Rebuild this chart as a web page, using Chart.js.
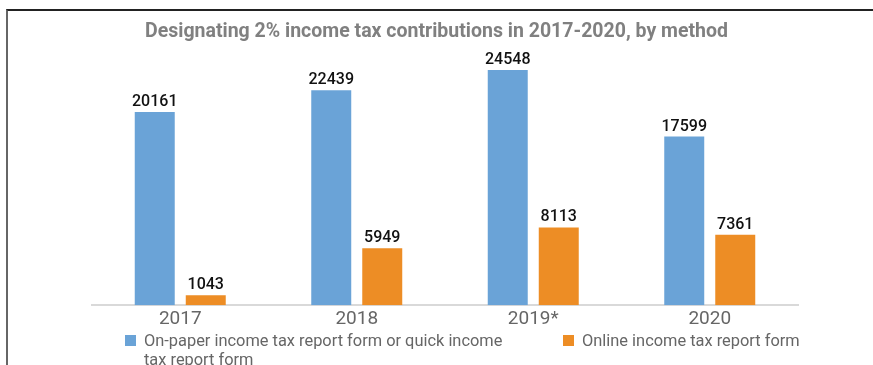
<!DOCTYPE html>
<html>
<head>
<meta charset="utf-8">
<script src="https://cdn.jsdelivr.net/npm/chart.js@4/dist/chart.umd.min.js"></script>
<style>
  body { margin: 0; background: #fff; font-family: Roboto, sans-serif; }
  #wrap { position: relative; width: 873px; height: 365px; overflow: hidden; }
  #frame { position: absolute; left: 6px; top: 9px; right: 0; bottom: 0; border-left: 2px solid #666; border-top: 2px solid #222; pointer-events: none; }
  .legend-item { position: absolute; display: flex; align-items: flex-start; color: #666; font-size: 16.4px; line-height: 19px; }
  .legend-item .box { width: 11px; height: 11px; margin-top: 4px; margin-right: 8px; flex: none; }
</style>
</head>
<body>
<div id="wrap">
  <canvas id="taxChart" width="873" height="365"></canvas>
  <div id="frame"></div>
  <div id="legend"></div>
</div>
<script>
const years = ['2017', '2018', '2019*', '2020'];
const paperForms = [20161, 22439, 24548, 17599];
const onlineForms = [1043, 5949, 8113, 7361];
const seriesNames = ['On-paper income tax report form or quick income tax report form', 'Online income tax report form'];
const seriesColors = ['#6aa3d7', '#ed8d25'];
const chartTitle = 'Designating 2% income tax contributions in 2017-2020, by method';

// value above each bar
const valueLabels = {
    id: 'valueLabels',
    afterDatasetsDraw(chart) {
        const ctx = chart.ctx;
        ctx.save();
        ctx.font = '500 16px Roboto';
        ctx.fillStyle = '#111';
        ctx.textAlign = 'center';
        ctx.textBaseline = 'alphabetic';
        chart.data.datasets.forEach((ds, i) => {
            chart.getDatasetMeta(i).data.forEach((bar, j) => {
                ctx.fillText(ds.data[j], bar.x, bar.y - 6);
            });
        });
        ctx.restore();
    }
};

// title centred on the whole canvas (the built-in one centres on the padded area)
const canvasTitle = {
    id: 'canvasTitle',
    afterDraw(chart) {
        const ctx = chart.ctx;
        ctx.save();
        ctx.font = 'bold 19.5px Roboto';
        ctx.fillStyle = '#808080';
        ctx.textAlign = 'center';
        ctx.textBaseline = 'middle';
        ctx.fillText(chartTitle, chart.width / 2, 32);
        ctx.restore();
    }
};

const chart = new Chart(document.getElementById('taxChart'), {
    type: 'bar',
    data: {
        labels: years,
        datasets: [{
            label: seriesNames[0],
            data: paperForms,
            backgroundColor: seriesColors[0]
        }, {
            label: seriesNames[1],
            data: onlineForms,
            backgroundColor: seriesColors[1]
        }]
    },
    options: {
        responsive: false,
        animation: false,
        categoryPercentage: 0.578,
        barPercentage: 0.784,
        layout: { padding: { top: 58, left: 92, right: 75, bottom: 31 } },
        plugins: {
            legend: { display: false },
            tooltip: { enabled: false },
            title: { display: false }
        },
        scales: {
            y: { display: false, min: 0, max: 25800 },
            x: {
                grid: { display: false, drawTicks: false },
                border: { color: '#d9d9d9', width: 2 },
                ticks: { color: '#666', padding: 3, font: { family: 'Roboto', size: 19 } }
            }
        }
    },
    plugins: [valueLabels, canvasTitle]
});

// legend below the axis
const legendPos = [125, 563];
const legendWidth = [385, 260];
const legendEl = document.getElementById('legend');
chart.data.datasets.forEach((ds, i) => {
    const item = document.createElement('div');
    item.className = 'legend-item';
    item.style.left = legendPos[i] + 'px';
    item.style.top = '331px';
    item.style.width = legendWidth[i] + 'px';
    item.innerHTML = '<span class="box" style="background:' + ds.backgroundColor + '"></span><span>' + ds.label + '</span>';
    legendEl.appendChild(item);
});
</script>
</body>
</html>
